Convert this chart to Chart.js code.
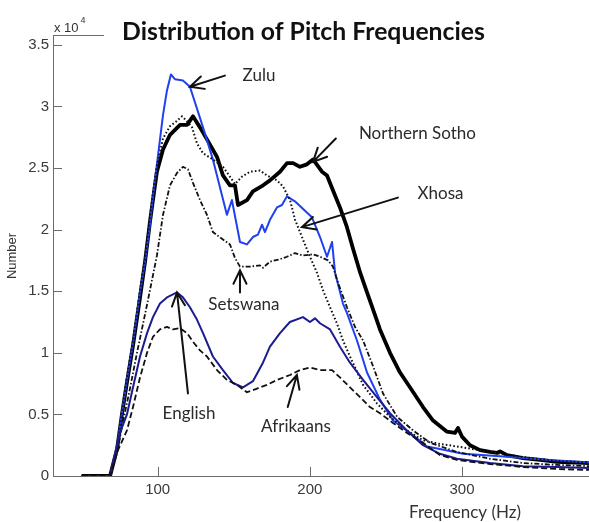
<!DOCTYPE html>
<html><head><meta charset="utf-8">
<script src="https://cdn.jsdelivr.net/npm/chart.js@4.4.0/dist/chart.umd.min.js"></script>
<style>html,body{margin:0;padding:0;background:#fff;overflow:hidden}canvas{display:block}</style>
</head><body>
<canvas id="c" width="589" height="522"></canvas>
<script>
// ---- data (values in units of 10^4) ----
const zuluHz = [50,68.7,73.3,76.5,79.8,83.8,88.4,91.7,94.9,96.9,99.5,101.5,103.5,106.1,108.7,111.4,116.6,121.2,129.8,136.3,145.5,148.8,154.1,158.7,162.6,165.9,168.6,170.5,173.8,178.4,181.7,185.0,190.2,201.4,206.7,211.3,214.6,216.6,221.8,224.5,231.0,237.6,246.1,254.7,265.8,277.0,285.5,300.7,325,358,383.5];
const zuluVal = [0,0,0.235,0.51,0.78,1.08,1.49,1.74,2.04,2.27,2.53,2.73,2.93,3.13,3.26,3.22,3.21,3.16,2.83,2.57,2.12,2.24,1.90,1.88,1.94,1.96,2.04,1.98,2.08,2.18,2.20,2.27,2.23,2.10,1.94,1.78,1.90,1.65,1.40,1.32,1.10,0.84,0.62,0.45,0.35,0.24,0.22,0.18,0.16,0.13,0.11];

const sothoHz = [50,68.7,73.3,76.5,79.8,83.8,88.4,91.7,94.9,96.9,99.5,103.5,108.1,114.7,119.3,123.2,127.8,134.4,139.0,142.9,147.5,150.8,152.8,158.7,162.6,169.3,173.8,180.4,185.0,189.0,193.5,198.1,202.1,208.0,211.3,215.2,219.8,224.4,228.5,233.1,237.6,241.6,246.1,252.7,259.3,265.8,274.4,281.0,290.2,295.4,297.4,300.0,305.3,311.9,318.4,323.0,325.0,329.6,340.1,351.3,362.4,383.5];
const sothoVal = [0,0,0.22,0.50,0.76,1.06,1.45,1.74,2.06,2.24,2.47,2.65,2.77,2.85,2.85,2.92,2.83,2.69,2.59,2.44,2.36,2.36,2.20,2.24,2.31,2.36,2.40,2.47,2.54,2.54,2.51,2.53,2.57,2.47,2.44,2.32,2.18,2.02,1.84,1.65,1.49,1.35,1.19,1.00,0.84,0.72,0.56,0.45,0.36,0.35,0.39,0.32,0.25,0.21,0.195,0.187,0.20,0.17,0.146,0.13,0.114,0.105];

const xhosaHz = [50,68.7,73.3,76.5,79.8,83.8,88.4,91.7,94.9,96.9,99.5,103.5,108.1,111.4,116.0,119.3,122.6,125.8,129.8,136.3,142.9,147.5,150.8,155.4,160.6,167.2,171.8,178.4,182.4,187.0,190.3,195.5,200.1,204.7,208.6,213.3,217.8,221.8,226.4,235.0,244.1,252.7,263.8,274.4,285.5,296.7,318.4,340.1,362.4,383.5];
const xhosaVal = [0,0,0.24,0.52,0.80,1.10,1.51,1.76,2.10,2.30,2.52,2.74,2.84,2.87,2.92,2.88,2.83,2.70,2.62,2.57,2.51,2.43,2.37,2.43,2.47,2.48,2.44,2.40,2.35,2.24,2.08,1.92,1.78,1.65,1.51,1.37,1.24,1.10,0.97,0.74,0.59,0.48,0.37,0.29,0.26,0.24,0.195,0.154,0.12,0.11];

const tswanaHz = [50,68.7,73.3,77.2,81.8,86.4,93.0,99.5,103.5,108.1,112.7,116.6,119.9,123.2,127.8,132.4,136.3,142.9,147.5,150.8,154.1,160.6,167.2,169.2,173.8,180.4,185.0,190.2,195.5,202.1,206.7,212.0,215.2,218.5,224.4,229.7,235.0,241.6,248.1,257.4,267.9,279.0,296.7,318.4,340.1,362.4,383.5];
const tswanaVal = [0,0,0.195,0.44,0.71,1.00,1.39,1.79,2.12,2.36,2.46,2.51,2.49,2.38,2.24,2.12,1.98,1.92,1.88,1.77,1.70,1.70,1.71,1.69,1.74,1.76,1.78,1.81,1.79,1.80,1.78,1.75,1.70,1.57,1.37,1.21,1.10,0.89,0.67,0.48,0.37,0.27,0.195,0.14,0.105,0.09,0.08];

const englishHz = [50,68.7,70.6,75.2,79.8,83.8,88.4,93.0,96.9,101.5,106.1,112.7,116.6,121.2,125.8,129.8,136.3,142.9,149.5,156.1,162.6,169.2,173.8,180.4,186.9,195.5,200.1,203.4,206.7,213.3,219.8,226.4,235.0,244.1,252.7,263.8,274.4,285.5,296.7,318.4,340.1,362.4,383.5];
const englishVal = [0,0,0.105,0.35,0.50,0.72,0.97,1.16,1.29,1.40,1.45,1.49,1.45,1.37,1.27,1.16,0.97,0.86,0.755,0.72,0.77,0.92,1.05,1.16,1.25,1.29,1.25,1.28,1.24,1.19,1.05,0.92,0.78,0.64,0.51,0.37,0.25,0.18,0.14,0.105,0.08,0.073,0.065];

const afrikaansHz = [50,68.7,73.9,79.8,83.8,88.4,93.0,96.9,101.5,106.1,110.1,114.7,119.3,123.2,127.8,132.4,139.0,145.5,152.1,158.7,165.3,171.8,178.4,187.0,193.5,200.1,206.7,214.6,219.8,226.4,233.0,239.5,246.1,254.7,263.8,274.4,285.5,296.7,318.4,340.1,362.4,383.5];
const afrikaansVal = [0,0,0.21,0.37,0.56,0.80,1.00,1.13,1.19,1.21,1.19,1.20,1.16,1.09,1.02,0.97,0.86,0.78,0.74,0.68,0.71,0.74,0.78,0.82,0.86,0.88,0.86,0.86,0.80,0.72,0.64,0.56,0.51,0.43,0.35,0.27,0.17,0.13,0.097,0.073,0.057,0.049];

const xTickValues = [100, 200, 300];
const xTickLabels = ['100', '200', '300'];
const yTickValues = [0, 0.5, 1, 1.5, 2, 2.5, 3, 3.5];
const yTickLabels = ['0', '0.5', '1', '1.5', '2', '2.5', '3', '3.5'];

const titleText = 'Distribution of Pitch Frequencies';
const xTitle = 'Frequency (Hz)';
const yTitle = 'Number';

// annotations in data coordinates: label centre, arrow tail, arrow tip
const notes = [
  {text:'Zulu',           tx:166.6, ty:3.25, ax:144.2, ay:3.25, bx:121.2, by:3.16},
  {text:'Northern Sotho', tx:270.7, ty:2.78, ax:217.1, ay:2.74, bx:202.1, by:2.55},
  {text:'Xhosa',          tx:285.9, ty:2.29, ax:257.9, ay:2.26, bx:194.8, by:2.02},
  {text:'Setswana',       tx:156.7, ty:1.39, ax:154.1, ay:1.49, bx:154.1, by:1.67},
  {text:'English',        tx:120.6, ty:0.51, ax:119.9, ay:0.67, bx:112.7, by:1.49},
  {text:'Afrikaans',      tx:190.9, ty:0.40, ax:185.5, ay:0.56, bx:191.5, by:0.82}
];

function pts(xs, ys){ const n=Math.min(xs.length, ys.length); const o=[]; for(let i=0;i<n;i++) o.push({x:xs[i], y:ys[i]}); return o; }

const AXIS_COLOR = '#6b6b6b';
const TICK_FONT = {family:'Liberation Sans, Arial, sans-serif', size:15};

function arrow(ctx, x1, y1, x2, y2){
  ctx.beginPath();
  ctx.moveTo(x1, y1); ctx.lineTo(x2, y2);
  const a = Math.atan2(y1 - y2, x1 - x2), L = 15, h = 0.45;
  ctx.moveTo(x2 + L*Math.cos(a+h), y2 + L*Math.sin(a+h));
  ctx.lineTo(x2, y2);
  ctx.lineTo(x2 + L*Math.cos(a-h), y2 + L*Math.sin(a-h));
  ctx.stroke();
}

const decor = {
  id: 'decor',
  afterDraw(chart){
    const ctx = chart.ctx, xs = chart.scales.x, ys = chart.scales.y, ca = chart.chartArea;
    ctx.save();
    // inward tick marks
    ctx.strokeStyle = AXIS_COLOR; ctx.lineWidth = 1;
    ctx.beginPath();
    yTickValues.forEach(v => { const y = Math.round(ys.getPixelForValue(v)) + 0.5; ctx.moveTo(ca.left, y); ctx.lineTo(ca.left + 9, y); });
    xTickValues.forEach(v => { const x = Math.round(xs.getPixelForValue(v)) + 0.5; ctx.moveTo(x, ca.bottom); ctx.lineTo(x, ca.bottom - 9); });
    // short top line under the exponent label
    ctx.moveTo(ca.left, ca.top + 0.5); ctx.lineTo(ca.left + 51, ca.top + 0.5);
    ctx.stroke();
    // exponent label
    ctx.fillStyle = '#333';
    ctx.textAlign = 'left'; ctx.textBaseline = 'alphabetic';
    ctx.font = '13px "Liberation Sans", Arial, sans-serif';
    ctx.fillText('x 10', ca.left + 1, ca.top - 3);
    const w = ctx.measureText('x 10').width;
    ctx.font = '9px "Liberation Sans", Arial, sans-serif';
    ctx.fillText('4', ca.left + 3 + w, ca.top - 12);
    // title
    ctx.fillStyle = '#111';
    let fs = 21;
    ctx.font = 'bold ' + fs + 'px Lato, sans-serif';
    fs = fs * 363 / ctx.measureText(titleText).width;
    ctx.font = 'bold ' + fs.toFixed(2) + 'px Lato, sans-serif';
    ctx.textAlign = 'center'; ctx.textBaseline = 'alphabetic';
    ctx.fillText(titleText, 303.5, 40);
    // axis titles
    ctx.fillStyle = '#333';
    ctx.font = '17px Lato, sans-serif';
    ctx.textBaseline = 'middle';
    ctx.fillText(xTitle, 465, 513);
    ctx.save();
    ctx.translate(12, 256); ctx.rotate(-Math.PI/2);
    ctx.font = '13px "Liberation Sans", Arial, sans-serif';
    ctx.fillText(yTitle, 0, 0);
    ctx.restore();
    // annotations
    ctx.strokeStyle = '#111'; ctx.lineWidth = 2; ctx.lineCap = 'round';
    ctx.font = '17px Lato, sans-serif';
    ctx.fillStyle = '#2a2a2a';
    notes.forEach(n => {
      ctx.fillText(n.text, xs.getPixelForValue(n.tx), ys.getPixelForValue(n.ty));
      arrow(ctx, xs.getPixelForValue(n.ax), ys.getPixelForValue(n.ay), xs.getPixelForValue(n.bx), ys.getPixelForValue(n.by));
    });
    ctx.restore();
  }
};

const common = {pointRadius:0, pointHoverRadius:0, tension:0, fill:false, borderJoinStyle:'round'};

new Chart(document.getElementById('c'), {
  type: 'line',
  data: {
    datasets: [
      Object.assign({label:'Afrikaans', data:pts(afrikaansHz, afrikaansVal), borderColor:'#111', borderWidth:1.8, borderDash:[6,3]}, common),
      Object.assign({label:'English', data:pts(englishHz, englishVal), borderColor:'#1c1c90', borderWidth:2}, common),
      Object.assign({label:'Setswana', data:pts(tswanaHz, tswanaVal), borderColor:'#111', borderWidth:1.8, borderDash:[5,2,1.5,2]}, common),
      Object.assign({label:'Xhosa', data:pts(xhosaHz, xhosaVal), borderColor:'#111', borderWidth:2, borderDash:[1.6,2.2]}, common),
      Object.assign({label:'Zulu', data:pts(zuluHz, zuluVal), borderColor:'#2040f0', borderWidth:2}, common),
      Object.assign({label:'Northern Sotho', data:pts(sothoHz, sothoVal), borderColor:'#000', borderWidth:3.8}, common)
    ]
  },
  options: {
    responsive: false,
    animation: false,
    events: [],
    layout: {padding: {top: 35, right: 0, left: 0, bottom: 0}},
    plugins: {legend: {display: false}, tooltip: {enabled: false}, title: {display: false}},
    scales: {
      x: {
        type: 'linear', min: 31.2, max: 383.5,
        afterBuildTicks: s => { s.ticks = xTickValues.map(v => ({value: v})); },
        afterFit: s => { s.height = 46; },
        grid: {display: true, drawOnChartArea: false, drawTicks: false},
        border: {display: true, color: AXIS_COLOR, width: 1},
        ticks: {font: TICK_FONT, color: '#3a3a3a', padding: 5, maxRotation: 0, autoSkip: false,
                callback: (v) => { const i = xTickValues.indexOf(v); return i >= 0 ? xTickLabels[i] : ''; }}
      },
      y: {
        type: 'linear', min: 0, max: 3.58,
        afterBuildTicks: s => { s.ticks = yTickValues.map(v => ({value: v})); },
        afterFit: s => { s.width = 53; },
        grid: {display: true, drawOnChartArea: false, drawTicks: false},
        border: {display: true, color: AXIS_COLOR, width: 1},
        ticks: {font: TICK_FONT, color: '#3a3a3a', padding: 4,
                callback: (v) => { const i = yTickValues.indexOf(v); return i >= 0 ? yTickLabels[i] : ''; }}
      }
    }
  },
  plugins: [decor]
});
</script>
</body></html>
